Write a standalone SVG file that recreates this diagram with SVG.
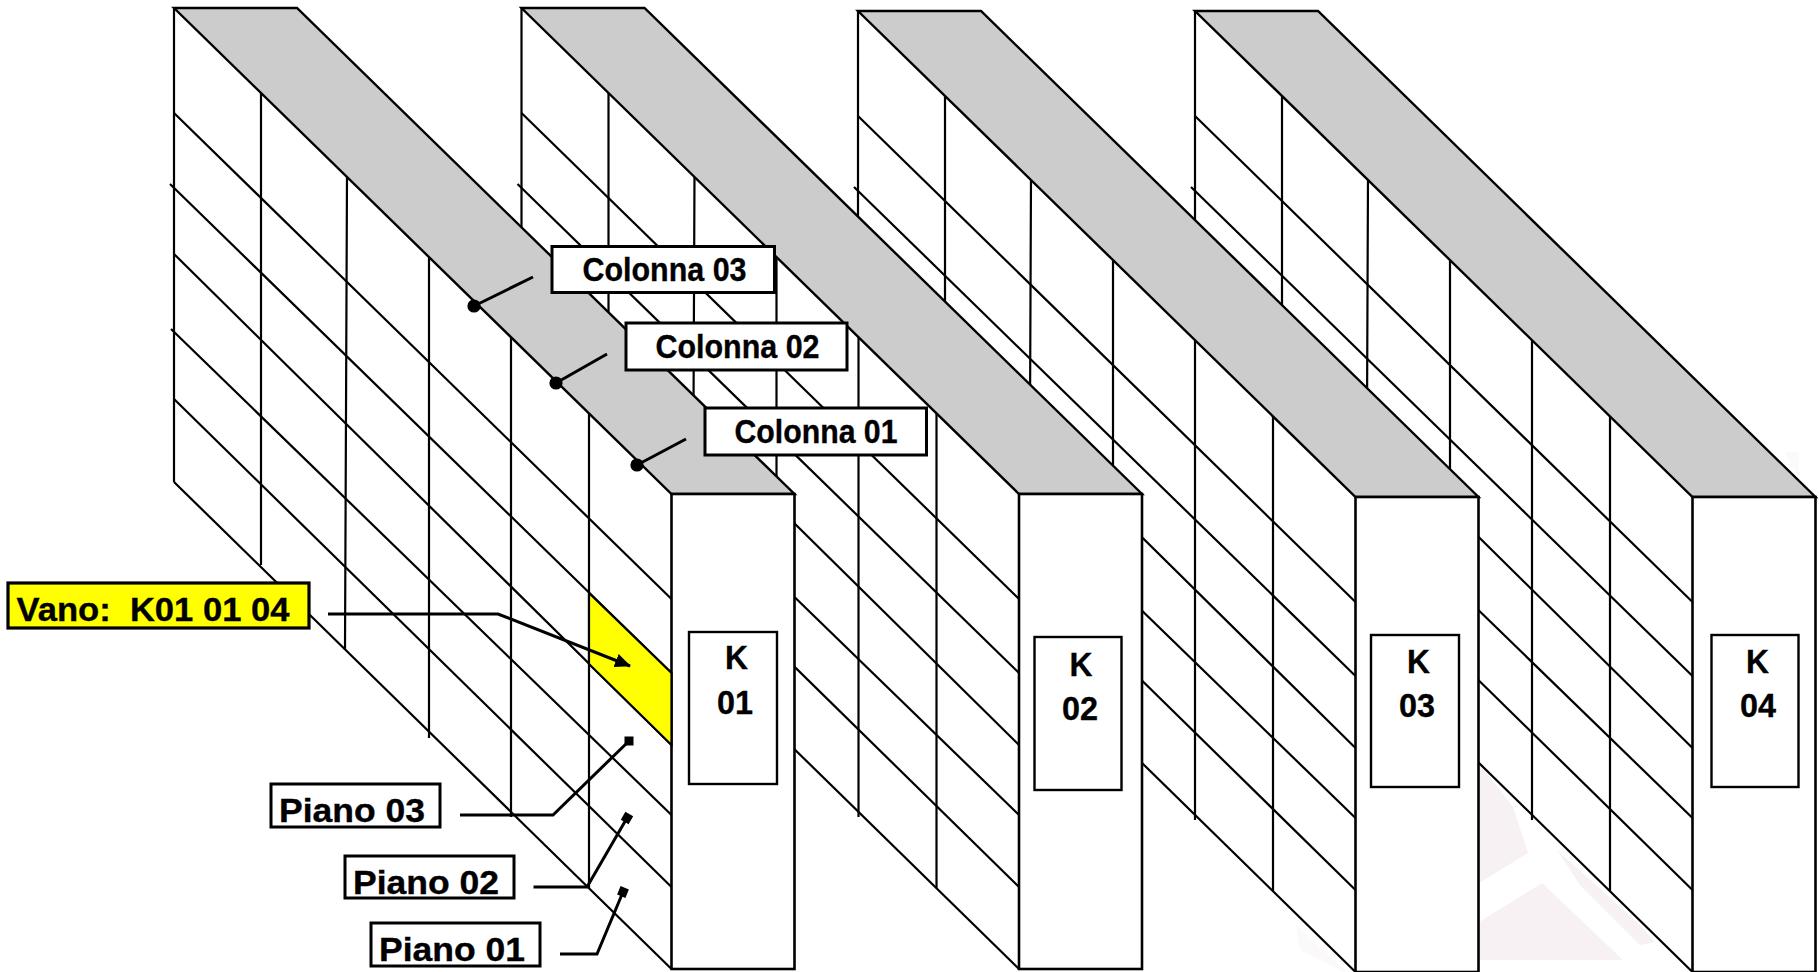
<svg xmlns="http://www.w3.org/2000/svg" xmlns:xlink="http://www.w3.org/1999/xlink" width="1819" height="972" viewBox="0 0 1819 972">
<style>
.bg{fill:#fff}
.ln{stroke:#000;stroke-width:2.2;fill:none}
.pn{fill:#fff;stroke:none}
.top{fill:#ccc;stroke:#000;stroke-width:2.4;stroke-linejoin:miter}
.fr{fill:#fff;stroke:#000;stroke-width:2.6}
.box{fill:#fff;stroke:#000;stroke-width:3}
.kbox{fill:#fff;stroke:#000;stroke-width:2.4}
.vano{fill:#ff0;stroke:#000;stroke-width:3.2}
.cell{fill:#ff0;stroke:#000;stroke-width:2.2}
.con{stroke:#000;stroke-width:3;fill:none;stroke-linejoin:miter}
.wm{fill:#f7f1f3;stroke:none}
.wm2{fill:#fbf9f9;stroke:none}
text{font-family:"Liberation Sans",Arial,sans-serif;font-weight:700;font-size:33px;fill:#000;stroke:#000;stroke-width:.35}
</style>
<defs>
<g id="rack">
<polygon class="pn" points="174,8 671.5,494 671.5,969 174,482"/>
<path class="ln" d="M174,8V482M261,92V565M347,174L345,650M429,258V738M511,337V817M589,413V888"/>
<path class="ln" d="M174,113L671.5,599M170,184L671.5,673M174,254L671.5,745M171,329L671.5,815M174,399L671.5,887M174,482L671.5,969"/>
<polygon class="top" points="174,8 297,8 794.5,494 671.5,494"/>
<rect class="fr" x="671.5" y="494" width="123" height="475"/>
</g>
<marker id="arrow" markerUnits="userSpaceOnUse" viewBox="0 0 16 14" markerWidth="16" markerHeight="14" refX="15" refY="7" orient="auto"><path d="M0,0L16,7L0,14z" fill="#000"/></marker>
<marker id="dot" markerUnits="userSpaceOnUse" viewBox="-7 -7 14 14" markerWidth="14" markerHeight="14" refX="0" refY="0"><circle r="6.6" fill="#000"/></marker>
<marker id="sq" markerUnits="userSpaceOnUse" viewBox="-5 -5 10 10" markerWidth="10" markerHeight="10" refX="0" refY="0" orient="auto"><rect x="-4.5" y="-4.5" width="9" height="9" fill="#000"/></marker>
<marker id="sq0" markerUnits="userSpaceOnUse" viewBox="-5 -5 10 10" markerWidth="10" markerHeight="10" refX="0" refY="0"><rect x="-4.5" y="-4.5" width="9" height="9" fill="#000"/></marker>
</defs>
<rect class="bg" width="1819" height="972"/>
<g id="watermark">
<polygon class="wm" points="1479,763 1513,807 1528,853 1479,883"/>
<polygon class="wm" points="1479,922 1542,883 1623,960 1479,960"/>
<polygon class="wm" points="1557,850 1640,925 1655,942 1640,945 1580,885"/>
<polygon class="wm2" points="1296,925 1350,975 1300,950"/>
<polygon class="wm2" points="1785,452 1799,452 1799,478"/>
</g>
<g id="K04">
<use href="#rack" x="1021" y="3"/>
<rect class="kbox" x="1711.5" y="635" width="87" height="152"/>
<text x="1746" y="673" textLength="23" lengthAdjust="spacingAndGlyphs">K</text>
<text x="1740" y="717" textLength="36" lengthAdjust="spacingAndGlyphs">04</text>
</g>
<g id="K03">
<use href="#rack" x="684" y="3"/>
<rect class="kbox" x="1371" y="635" width="88" height="152"/>
<text x="1407" y="673" textLength="23" lengthAdjust="spacingAndGlyphs">K</text>
<text x="1399" y="717" textLength="36" lengthAdjust="spacingAndGlyphs">03</text>
</g>
<g id="K02">
<use href="#rack" x="347.5" y="0"/>
<rect class="kbox" x="1034.5" y="637" width="87" height="153"/>
<text x="1069.5" y="676" textLength="23" lengthAdjust="spacingAndGlyphs">K</text>
<text x="1062" y="720" textLength="36" lengthAdjust="spacingAndGlyphs">02</text>
</g>
<g id="K01">
<use href="#rack"/>
<polygon class="cell" points="589,593 671.5,673 671.5,745 589,664"/>
<rect class="kbox" x="689" y="632" width="88" height="152"/>
<text x="725" y="669" textLength="23" lengthAdjust="spacingAndGlyphs">K</text>
<text x="717" y="714" textLength="36" lengthAdjust="spacingAndGlyphs">01</text>
</g>
<g id="connectors">
<path class="con" d="M533,277L474,306" marker-end="url(#dot)"/>
<path class="con" d="M607,354L556,383" marker-end="url(#dot)"/>
<path class="con" d="M686,439L637,465" marker-end="url(#dot)"/>
<path class="con" d="M328,614H498L630,666" marker-end="url(#arrow)"/>
<path class="con" d="M460,815H553L629,741" marker-end="url(#sq0)"/>
<path class="con" d="M533.5,887H587L627,818" marker-end="url(#sq)"/>
<path class="con" d="M560,954H597L623,892" marker-end="url(#sq)"/>
</g>
<g id="colonna-03"><rect class="box" x="552" y="246.5" width="222.5" height="46"/><text x="582.5" y="281" textLength="164" lengthAdjust="spacingAndGlyphs">Colonna 03</text></g>
<g id="colonna-02"><rect class="box" x="626" y="323" width="221" height="47"/><text x="655.5" y="358" textLength="164" lengthAdjust="spacingAndGlyphs">Colonna 02</text></g>
<g id="colonna-01"><rect class="box" x="705" y="408" width="221.5" height="47"/><text x="734.5" y="443" textLength="163" lengthAdjust="spacingAndGlyphs">Colonna 01</text></g>
<g id="vano"><rect class="vano" x="8" y="583" width="301" height="45"/><text x="16.5" y="621" textLength="273" lengthAdjust="spacingAndGlyphs" xml:space="preserve">Vano:  K01 01 04</text></g>
<g id="piano-03"><rect class="box" x="271" y="784" width="169" height="43"/><text x="279" y="822" textLength="146" lengthAdjust="spacingAndGlyphs">Piano 03</text></g>
<g id="piano-02"><rect class="box" x="345" y="856" width="169" height="42"/><text x="353" y="894" textLength="146" lengthAdjust="spacingAndGlyphs">Piano 02</text></g>
<g id="piano-01"><rect class="box" x="371" y="923" width="169" height="43"/><text x="379" y="961" textLength="146" lengthAdjust="spacingAndGlyphs">Piano 01</text></g>
</svg>
